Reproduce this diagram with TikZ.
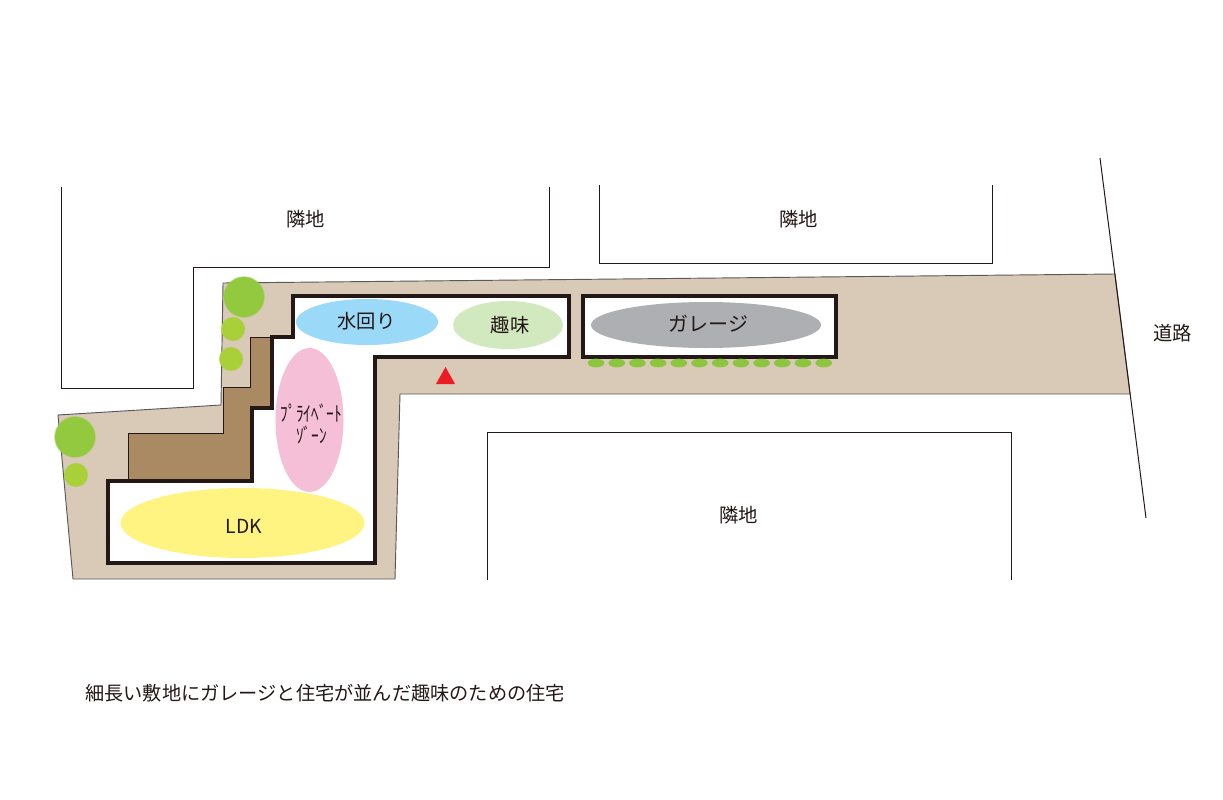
\documentclass[tikz,border=0pt]{standalone}
\usepackage{fontspec}
\setmainfont{Noto Sans CJK JP}
\usetikzlibrary{shapes.geometric}
\definecolor{site}{HTML}{D9C9B7}
\definecolor{deck}{HTML}{A98A63}
\definecolor{wall}{HTML}{231815}
\definecolor{treeA}{HTML}{93C93F}
\definecolor{treeB}{HTML}{A9D038}
\definecolor{hedge}{HTML}{8CC63F}
\definecolor{water}{HTML}{9BD9F8}
\definecolor{hobby}{HTML}{D2E8BE}
\definecolor{garage}{HTML}{AEAFB2}
\definecolor{priv}{HTML}{F6BFD8}
\definecolor{ldk}{HTML}{FFF482}
\definecolor{tri}{HTML}{ED1C24}
\tikzset{
 zone/.style={ellipse,inner sep=0pt,draw=none,text=wall},
 boundary/.style={draw=wall,line width=.75pt},
 wallline/.style={draw=wall,fill=white,line width=2.7pt,line join=miter},
 treeBig/.style={circle,fill=treeA,draw=treeA,draw opacity=.5,line width=1.2pt,minimum size=30pt,inner sep=0pt},
 treeSmall/.style={circle,fill=treeB,draw=treeB,draw opacity=.5,line width=.7pt,inner sep=0pt,minimum size=17.5pt},
 hedgedot/.style={ellipse,fill=hedge,inner sep=0pt,minimum width=12.5pt,minimum height=6.5pt},
 label/.style={inner sep=0pt,text=wall,font=\fontsize{14.5}{16}\selectfont},
}
\begin{document}
\begin{tikzpicture}[x=0.75pt,y=-0.75pt]
\useasboundingbox (0,0) rectangle (1223,799);
% site
\draw[fill=site,draw=black!65,line width=.7pt] (223,283) -- (1115,274) -- (1130,394) -- (400,394) -- (395,579) -- (73,579) -- (58,415) -- (221,405) -- cycle;
% deck
\fill[deck,draw=wall,line width=.5pt] (128,481) -- (128,433) -- (223,433) -- (223,387) -- (250,387) -- (250,337) -- (272,337) -- (272,408) -- (252,408) -- (252,481) -- cycle;
% neighbours
\draw[boundary] (61,187) -- (61,388) -- (193,388) -- (193,267) -- (549,267) -- (549,187);
\draw[boundary] (599,185) -- (599,263) -- (992,263) -- (992,185);
\draw[boundary] (487,580) -- (487,432) -- (1011,432) -- (1011,580);
\draw[boundary] (1100,158) -- (1146,518);
% buildings
\draw[wallline] (293,296) -- (569,296) -- (569,357) -- (375,357) -- (375,563) -- (108,563) -- (108,481) -- (252,481) -- (252,408) -- (272,408) -- (272,337) -- (293,337) -- cycle;
\draw[wallline] (583,296) -- (836,296) -- (836,357) -- (583,357) -- cycle;
% zones
\node[zone,fill=water,minimum width=106.5pt,minimum height=34.5pt] (mizu) at (367,322) {};
\node[label] (mizut) at (366.5,321) {水回り};
\node[zone,fill=hobby,minimum width=82.5pt,minimum height=36pt] (shumi) at (508,325) {};
\node[label] (shumit) at (510,325) {趣味};
\node[zone,fill=garage,minimum width=172.5pt,minimum height=34.5pt] (gar) at (706,325) {};
\node[label,font=\fontsize{15}{16}\selectfont] (gart) at (708.5,324) {ガレージ};
\node[zone,fill=priv,minimum width=51pt,minimum height=108pt] (pv) at (309.5,420) {};
\node[label,font=\fontsize{15.5}{16.5}\selectfont,align=center,xscale=.74] (pvt) at (311.5,424) {ﾌﾟﾗｲﾍﾞｰﾄ\\ｿﾞｰﾝ};
\node[zone,fill=ldk,minimum width=183pt,minimum height=52.5pt] (ld) at (242.5,523) {};
\node[label] (ldt) at (244,526) {LDK};
% trees
\node[treeBig] (t1) at (244,297) {};
\node[treeSmall] (t2) at (233,329) {};
\node[treeSmall] (t3) at (231,359) {};
\node[treeBig] (t4) at (75,437) {};
\node[treeSmall] (t5) at (76,475) {};
\foreach \i in {0,...,11} \node[hedgedot] (h\i) at ({596+\i*20.7},363) {};
% entrance
\fill[tri] (445.5,367) -- (436,384) -- (455,384) -- cycle;
% labels
\node[label] (n1) at (305.5,219.5) {隣地};
\node[label] (n2) at (798.5,219.5) {隣地};
\node[label] (n3) at (738.5,515.5) {隣地};
\node[label] (road) at (1172.5,333) {道路};
\node[label,anchor=west,font=\fontsize{14.4}{16}\selectfont] (cap) at (85,693.5) {細長い敷地にガレージと住宅が並んだ趣味のための住宅};
\end{tikzpicture}
\end{document}
